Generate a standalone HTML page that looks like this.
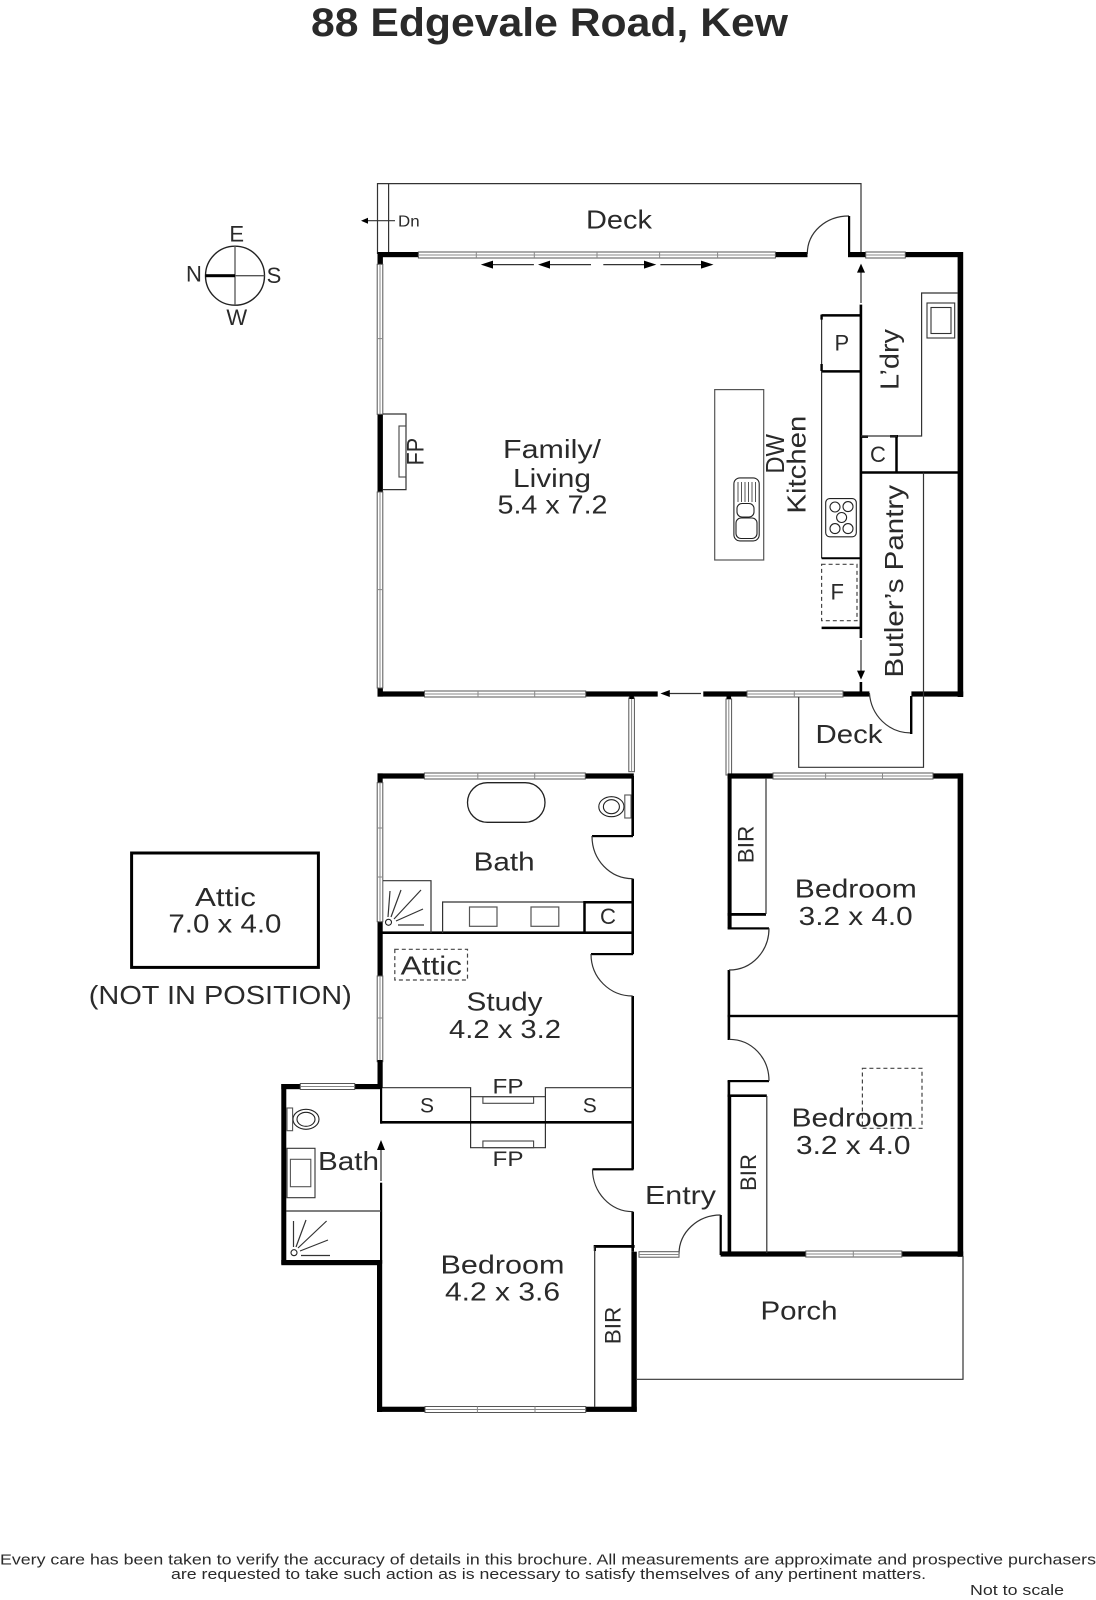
<!DOCTYPE html>
<html><head><meta charset="utf-8"><title>88 Edgevale Road, Kew</title>
<style>
html,body{margin:0;padding:0;background:#fff}
svg{display:block}
text{font-family:"Liberation Sans",sans-serif;fill:#2a2a2a}
.t{font-size:26px;text-anchor:start}
.s{font-size:22px}
.w{fill:#fff;stroke:#555;stroke-width:1}
.c{stroke:#888;stroke-width:1;fill:none}
.k{fill:#000;stroke:none}
.l{fill:none;stroke:#333;stroke-width:1.2}
.m{fill:none;stroke:#000;stroke-width:2.5}
.d{fill:none;stroke:#444;stroke-width:1.2;stroke-dasharray:4 3}
</style></head><body>
<svg width="1096" height="1600" viewBox="0 0 1096 1600" xmlns="http://www.w3.org/2000/svg">
<rect width="1096" height="1600" fill="#fff"/>
<text x="311" y="36" font-size="40" font-weight="bold" textLength="477" lengthAdjust="spacingAndGlyphs">88 Edgevale Road, Kew</text>

<!-- compass -->
<circle cx="235" cy="275.7" r="29.5" fill="none" stroke="#222" stroke-width="1.4"/>
<path d="M235 246V305M235 275.7H264.5" stroke="#555" stroke-width="1.3" fill="none"/>
<rect x="205.5" y="274.2" width="29.5" height="3" fill="#000"/>
<text x="236.7" y="241.7" font-size="22" text-anchor="middle">E</text>
<text x="194" y="281.7" font-size="22" text-anchor="middle">N</text>
<text x="274" y="283" font-size="22" text-anchor="middle">S</text>
<text x="236.7" y="325" font-size="22" text-anchor="middle">W</text>

<!-- attic -->
<rect x="131.6" y="853" width="186.8" height="114.4" fill="none" stroke="#000" stroke-width="3"/>
<text class="t" x="195" y="906" textLength="61" lengthAdjust="spacingAndGlyphs">Attic</text>
<text class="t" x="168.4" y="932.7" textLength="113" lengthAdjust="spacingAndGlyphs">7.0 x 4.0</text>
<text class="t" x="88.8" y="1004" textLength="263" lengthAdjust="spacingAndGlyphs">(NOT IN POSITION)</text>

<!-- rear deck -->
<path class="l" d="M377.5 254V183.6H861V254M388.6 183.6V254"/>
<path class="l" d="M366 220.7H395"/><path class="k" d="M361 220.7l7-3v6z"/>
<text x="398" y="226.5" font-size="16" textLength="21.6" lengthAdjust="spacingAndGlyphs">Dn</text>
<text class="t" x="586" y="228.6" textLength="66" lengthAdjust="spacingAndGlyphs">Deck</text>

<!-- top walls -->
<g class="k">
<rect x="377.5" y="252" width="41" height="5.2"/>
<rect x="775.5" y="252" width="32" height="5.2"/>
<rect x="848" y="252" width="18" height="5.2"/>
<rect x="905" y="252" width="58" height="5.2"/>
<rect x="957.6" y="252" width="5.6" height="445"/>
<rect x="377.5" y="252" width="5.4" height="12"/>
<rect x="377.5" y="414.3" width="5.4" height="78"/>
<rect x="377.5" y="688" width="5.4" height="8.6"/>
<rect x="377.5" y="691.4" width="47" height="5.2"/>
<rect x="585.7" y="691.4" width="72" height="5.2"/>
<rect x="703.3" y="691.4" width="44" height="5.2"/>
<rect x="842.9" y="691.4" width="26.5" height="5.2"/>
<rect x="911.4" y="691.4" width="51.8" height="5.2"/>
<rect x="859.6" y="304.6" width="2.6" height="333.4"/>
<rect x="859.6" y="682" width="2.6" height="10"/>
</g>
<!-- rear door -->
<path class="l" d="M807.3 254C807.3 232 826 216 849 216"/>
<rect class="k" x="848" y="216" width="2.2" height="38"/>
<!-- windows -->
<rect class="w" x="418.4" y="252" width="357" height="6"/>
<path class="c" d="M418.4 255H775.5M476.3 252v6M534.3 252v6M597 252v6M659.6 252v6M717.6 252v6"/>
<rect class="w" x="865.7" y="252" width="39.6" height="6"/><path class="c" d="M865.7 255H905.3"/>
<rect class="w" x="377.2" y="264.3" width="5.6" height="150"/><path class="c" d="M380 264.3V414.3M377 338.6h6"/>
<rect class="w" x="377.2" y="492" width="5.6" height="196"/><path class="c" d="M380 492V688M377 589.6h6"/>
<rect class="w" x="424.5" y="691" width="161.2" height="6"/><path class="c" d="M424.5 694H585.7M478 691v6M534.7 691v6"/>
<rect class="w" x="747" y="691" width="96" height="6"/><path class="c" d="M747 694H843M794.3 691v6"/>

<!-- sliding arrows -->
<g>
<path class="l" d="M490 264.6H533.9M547 264.6H591M603.3 264.6H647M660.4 264.6H704"/>
<path class="k" d="M480.8 264.6l12.2-4v8zM538 264.6l12-4v8zM656.3 264.6l-12.3-4v8zM713.5 264.6l-12.5-4v8z"/>
</g>

<!-- door arrows kitchen -->
<path class="l" d="M861 270V303M861 640V672M665 693.5H701"/>
<path class="k" d="M861 263.6l4 9h-8zM861 679.6l4-9h-8zM660.4 693.5l9.4-3.5v7z"/>

<!-- kitchen joinery -->
<path class="m" d="M821.6 315.4H860M821.6 371.4H860"/>
<path class="l" d="M821.6 314.6V558.2"/>
<path d="M821.6 314.6v5M821.6 364v7" stroke="#000" stroke-width="2.4"/>
<path stroke="#000" stroke-width="2" d="M821.6 558.2H860"/>
<rect class="d" x="821.6" y="564.3" width="35.4" height="56.4"/>
<path class="m" d="M821.6 627.9H860"/>
<text class="s" x="834.5" y="350.4">P</text>
<text class="s" x="830.5" y="599.3">F</text>
<!-- island -->
<rect x="714.7" y="389.6" width="49" height="170.4" fill="none" stroke="#555" stroke-width="1.2"/>
<rect x="733.9" y="477.9" width="25.3" height="63" rx="6" fill="none" stroke="#222" stroke-width="1.1"/>
<path d="M738 482V502M741.5 482V502M745 482V502M748.5 482V502M752 482V502M755.5 482V502" stroke="#444" stroke-width=".9"/>
<rect x="737" y="503.5" width="17" height="13.5" rx="5" fill="none" stroke="#222" stroke-width="1.1"/>
<rect x="736" y="518" width="21" height="20.5" rx="5" fill="none" stroke="#222" stroke-width="1.1"/>
<!-- cooktop -->
<rect x="825.7" y="498.6" width="30.6" height="38.2" rx="4" fill="none" stroke="#222" stroke-width="1.1"/>
<g fill="none" stroke="#222" stroke-width="1.1">
<circle cx="835" cy="507" r="5"/><circle cx="848" cy="506.6" r="5"/><circle cx="841.6" cy="517.5" r="5"/><circle cx="835" cy="528.6" r="5"/><circle cx="848" cy="528.6" r="5"/>
</g>
<!-- laundry -->
<path class="l" d="M957.6 293H921.6V436H897"/>
<rect x="927" y="303" width="27.7" height="35" fill="none" stroke="#333" stroke-width="1.1"/>
<rect x="931" y="307.5" width="20" height="26" fill="none" stroke="#333" stroke-width="1.1"/>
<path class="m" d="M861 436.6H868M890 436.3H898M896.5 436V472M861 472.5H958"/>
<path class="l" d="M861 436H897"/>
<path class="l" d="M923.5 472.5V767.3H798.7V697"/>
<text class="s" x="870" y="461.8">C</text>

<!-- side deck -->
<text class="t" x="815.5" y="743" textLength="67" lengthAdjust="spacingAndGlyphs">Deck</text>
<path class="l" d="M869.4 693C871 715 888 733 911.4 733"/>
<rect class="k" x="910" y="696" width="2.4" height="38"/>

<!-- rotated labels -->
<text class="t" transform="translate(423.7 465.4) rotate(-90)" style="font-size:24px" textLength="27.5" lengthAdjust="spacingAndGlyphs">FP</text>
<text class="t" transform="translate(784 473.6) rotate(-90)" textLength="39.6" lengthAdjust="spacingAndGlyphs">DW</text>
<text class="t" transform="translate(805.3 513.6) rotate(-90)" textLength="98" lengthAdjust="spacingAndGlyphs">Kitchen</text>
<text class="t" transform="translate(898.5 390) rotate(-90)" textLength="61" lengthAdjust="spacingAndGlyphs">L’dry</text>
<text class="t" transform="translate(903 677.5) rotate(-90)" textLength="192.5" lengthAdjust="spacingAndGlyphs">Butler’s Pantry</text>
<text class="s" transform="translate(753.5 863.3) rotate(-90)" textLength="37.6" lengthAdjust="spacingAndGlyphs">BIR</text>
<text class="s" transform="translate(755.8 1191) rotate(-90)" textLength="37" lengthAdjust="spacingAndGlyphs">BIR</text>
<text class="s" transform="translate(620.4 1344.3) rotate(-90)" textLength="37.6" lengthAdjust="spacingAndGlyphs">BIR</text>

<!-- fireplace family -->
<path class="l" d="M383 414H406V489.6H383"/>
<rect x="399" y="426" width="7" height="51" fill="none" stroke="#444" stroke-width="1.1"/>

<!-- family text -->
<text class="t" x="503" y="458" textLength="98" lengthAdjust="spacingAndGlyphs">Family/</text>
<text class="t" x="513" y="486.8" textLength="78" lengthAdjust="spacingAndGlyphs">Living</text>
<text class="t" x="497.5" y="513.6" textLength="110" lengthAdjust="spacingAndGlyphs">5.4 x 7.2</text>

<!-- corridor windows -->
<rect class="w" x="628.8" y="698" width="5.6" height="73.7"/><path class="c" d="M631.6 698V771.7"/>
<rect class="w" x="726" y="699" width="5.6" height="76"/><path class="c" d="M728.8 699V775"/>
<rect class="k" x="629.3" y="694" width="4.6" height="5"/>
<rect class="k" x="726.5" y="694" width="4.6" height="5"/>

<!-- bath / study block -->
<g class="k">
<rect x="377.5" y="773.4" width="47" height="5.2"/>
<rect x="585.3" y="773.4" width="48.5" height="5.2"/>
<rect x="377.5" y="773.4" width="5.2" height="9.3"/>
<rect x="377.5" y="921.7" width="5.2" height="54.3"/>
<rect x="377.5" y="1061.7" width="5.2" height="26"/>
<rect x="631.4" y="776" width="2.6" height="60"/>
<rect x="631.4" y="878.7" width="2.6" height="75.5"/>
<rect x="631.4" y="996" width="2.6" height="173.3"/>
<rect x="631.4" y="1211.7" width="2.6" height="40"/>
<rect x="378" y="931.4" width="255.8" height="2.6"/>
<rect x="592" y="835" width="41" height="2.2"/>
<rect x="591" y="953" width="42" height="2.2"/>
</g>
<path class="l" d="M592 836C592 860 610 878.7 632.7 878.7"/>
<path class="l" d="M591 954C591 978 610 996 632.7 996"/>
<rect class="w" x="424.4" y="773" width="160.9" height="6"/><path class="c" d="M424.4 776H585.3M477.8 773v6M534.7 773v6"/>
<rect class="w" x="377.2" y="782.7" width="5.6" height="139"/><path class="c" d="M380 782.7V921.7M377 828h6M377 877h6"/>
<rect class="w" x="377.2" y="976" width="5.6" height="85.7"/><path class="c" d="M380 976V1061.7M377 1018h6"/>
<!-- tub, wc -->
<rect x="467.5" y="782.7" width="77.5" height="39.6" rx="19.8" fill="none" stroke="#222" stroke-width="1.3"/>
<ellipse cx="611.4" cy="806.7" rx="12.6" ry="10" fill="none" stroke="#222" stroke-width="1.1"/>
<ellipse cx="611.4" cy="806.7" rx="8" ry="7" fill="none" stroke="#222" stroke-width="1.1"/>
<rect x="624.8" y="795" width="6.2" height="23" fill="none" stroke="#555" stroke-width="1.1"/>
<!-- shower -->
<path class="l" d="M383 880.7H431V933"/>
<circle cx="388.5" cy="922.3" r="3" fill="none" stroke="#222" stroke-width="1.1"/>
<path class="l" d="M388 917L390 891M391 917L401 890M394 919L421 890M396 921L423 909M398 925H424"/>
<!-- vanity -->
<path class="l" d="M442.6 933V902H584"/>
<rect x="469.5" y="907" width="27.5" height="19.3" fill="none" stroke="#555" stroke-width="1.2"/>
<rect x="531" y="907" width="27.8" height="19.3" fill="none" stroke="#555" stroke-width="1.2"/>
<path class="m" d="M584.5 901V933M584 902.2H633"/>
<text class="s" x="600" y="924" textLength="16" lengthAdjust="spacingAndGlyphs">C</text>
<text class="t" x="473.6" y="870.7" textLength="61" lengthAdjust="spacingAndGlyphs">Bath</text>
<rect class="d" x="394.8" y="949.3" width="72.7" height="30.7"/>
<text class="t" x="400.7" y="974.3" textLength="61.3" lengthAdjust="spacingAndGlyphs">Attic</text>
<text class="t" x="466.5" y="1010.7" textLength="76" lengthAdjust="spacingAndGlyphs">Study</text>
<text class="t" x="449" y="1038" textLength="112" lengthAdjust="spacingAndGlyphs">4.2 x 3.2</text>

<!-- right bedrooms -->
<g class="k">
<rect x="727.6" y="773.4" width="45.4" height="5.2"/>
<rect x="933" y="773.4" width="30" height="5.2"/>
<rect x="957.6" y="773.4" width="5.6" height="483.4"/>
<rect x="727.6" y="776" width="4" height="152"/>
<rect x="727.6" y="913" width="38.4" height="2.8"/>
<rect x="727.6" y="927.3" width="41.4" height="2.2"/>
<rect x="727.6" y="970" width="2.6" height="70"/>
<rect x="727.6" y="1014.8" width="233" height="2.4"/>
<rect x="727.6" y="1080" width="41.4" height="2.2"/>
<rect x="727.6" y="1081" width="2.6" height="16"/>
<rect x="727.6" y="1094.4" width="39.2" height="2.6"/>
<rect x="727.6" y="1095" width="3.6" height="160"/>
<rect x="720.6" y="1251.4" width="85.2" height="5.2"/>
<rect x="901.8" y="1251.4" width="61.4" height="5.2"/>
<rect x="719.6" y="1215" width="2.2" height="40"/>
</g>
<path class="l" d="M766 778V914M766.8 1096V1253"/>
<path class="l" d="M769 928.3C769 951 752 970 729 970"/>
<path class="l" d="M729 1039.3C752 1039.3 769 1058 769 1081"/>
<rect class="w" x="773" y="773" width="160" height="6"/><path class="c" d="M773 776H933M825.6 773v6M882.5 773v6"/>
<rect class="w" x="805.8" y="1251" width="96" height="6"/><path class="c" d="M805.8 1254H901.8M853.3 1251v6"/>
<text class="t" x="794.8" y="897.3" textLength="122" lengthAdjust="spacingAndGlyphs">Bedroom</text>
<text class="t" x="798.7" y="925" textLength="114" lengthAdjust="spacingAndGlyphs">3.2 x 4.0</text>
<rect class="d" x="862.4" y="1068.3" width="59.6" height="60"/>
<text class="t" x="791.5" y="1126.7" textLength="122" lengthAdjust="spacingAndGlyphs">Bedroom</text>
<text class="t" x="796" y="1154" textLength="114.5" lengthAdjust="spacingAndGlyphs">3.2 x 4.0</text>

<!-- entry & porch -->
<path class="l" d="M679 1254C679 1232 698 1215 720.6 1215"/>
<rect class="w" x="639" y="1251.7" width="40" height="5.5"/><path class="c" d="M639 1254.5H679"/>
<path class="l" d="M637 1379.3H963V1256"/>
<text class="t" x="645" y="1204" textLength="71" lengthAdjust="spacingAndGlyphs">Entry</text>
<text class="t" x="760.5" y="1319.3" textLength="77" lengthAdjust="spacingAndGlyphs">Porch</text>

<!-- fireplace row -->
<path class="l" d="M381 1087.7H470.6V1147.7H545.4V1087.7H632.3M470.6 1096.7H545.4"/>
<rect x="482.9" y="1096.7" width="50.7" height="6.6" fill="none" stroke="#444" stroke-width="1.1"/>
<rect x="482.9" y="1141" width="50.7" height="6.7" fill="none" stroke="#444" stroke-width="1.1"/>
<rect class="k" x="381" y="1121" width="251.5" height="2.6"/>
<text class="s" x="492.5" y="1093.3" style="font-size:21px" textLength="31" lengthAdjust="spacingAndGlyphs">FP</text>
<text class="s" x="492.5" y="1166" style="font-size:21px" textLength="31" lengthAdjust="spacingAndGlyphs">FP</text>
<text class="s" x="420" y="1112.7" style="font-size:21px">S</text>
<text class="s" x="582.7" y="1112.7" style="font-size:21px">S</text>

<!-- main bedroom -->
<g class="k">
<rect x="377.5" y="1060" width="5" height="28"/>
<rect x="380" y="1087.7" width="2.2" height="36"/>
<rect x="380" y="1182.7" width="2.2" height="81"/>
<rect x="281.3" y="1084" width="98.7" height="5.2"/>
<rect x="281.3" y="1084" width="5" height="180"/>
<rect x="281.3" y="1260" width="100" height="5.2"/>
<rect x="377" y="1260" width="5.2" height="152"/>
<rect x="377" y="1406.7" width="48" height="5.2"/>
<rect x="585.7" y="1406.7" width="51" height="5.2"/>
<rect x="631.4" y="1251.7" width="5.4" height="160"/>
<rect x="592.5" y="1168.2" width="41" height="2.2"/>
<rect x="593.8" y="1245" width="40.8" height="2.8"/>
<rect x="593.8" y="1245" width="2.2" height="6"/>
</g>
<path class="l" d="M592.5 1169.3C592.5 1192 610 1211.7 633 1211.7"/>
<path class="l" d="M594.7 1246V1407"/>
<path class="l" d="M381 1146V1181"/><path class="k" d="M381 1140l4 10h-8z"/>
<rect class="w" x="425" y="1406.5" width="160.7" height="6"/><path class="c" d="M425 1409.5H585.7M477.4 1406.5v6M535 1406.5v6"/>
<rect class="w" x="300.3" y="1083.5" width="54.4" height="6"/><path class="c" d="M300.3 1086.5H354.7"/>
<!-- small bath -->
<ellipse cx="306" cy="1119.3" rx="13" ry="10" fill="none" stroke="#222" stroke-width="1.1"/>
<ellipse cx="306" cy="1119.3" rx="9" ry="7" fill="none" stroke="#222" stroke-width="1.1"/>
<rect x="287" y="1108" width="5.6" height="22.7" fill="none" stroke="#555" stroke-width="1.1"/>
<rect x="287" y="1148.3" width="28" height="49.4" fill="none" stroke="#333" stroke-width="1.1"/>
<rect x="290.4" y="1159.3" width="20.4" height="27.4" fill="none" stroke="#555" stroke-width="1.1"/>
<path class="l" d="M286 1211H381"/>
<circle cx="294" cy="1252.7" r="3" fill="none" stroke="#222" stroke-width="1.1"/>
<path class="l" d="M293.5 1247L293.5 1221M296 1247L306 1220M298 1248L326.6 1221M300 1251L328 1240M301 1255.5H330"/>
<text class="t" x="318" y="1170" textLength="61" lengthAdjust="spacingAndGlyphs">Bath</text>
<text class="t" x="440.5" y="1273.3" textLength="124" lengthAdjust="spacingAndGlyphs">Bedroom</text>
<text class="t" x="445" y="1300.7" textLength="115" lengthAdjust="spacingAndGlyphs">4.2 x 3.6</text>

<!-- footer -->
<text x="0" y="1564.5" font-size="15" textLength="1096" lengthAdjust="spacingAndGlyphs">Every care has been taken to verify the accuracy of details in this brochure.  All measurements are approximate and prospective purchasers</text>
<text x="171" y="1579" font-size="15" textLength="755" lengthAdjust="spacingAndGlyphs">are requested to take such action as is necessary to satisfy themselves of any pertinent matters.</text>
<text x="970" y="1595" font-size="15" textLength="94" lengthAdjust="spacingAndGlyphs">Not to scale</text>
</svg>
</body></html>
